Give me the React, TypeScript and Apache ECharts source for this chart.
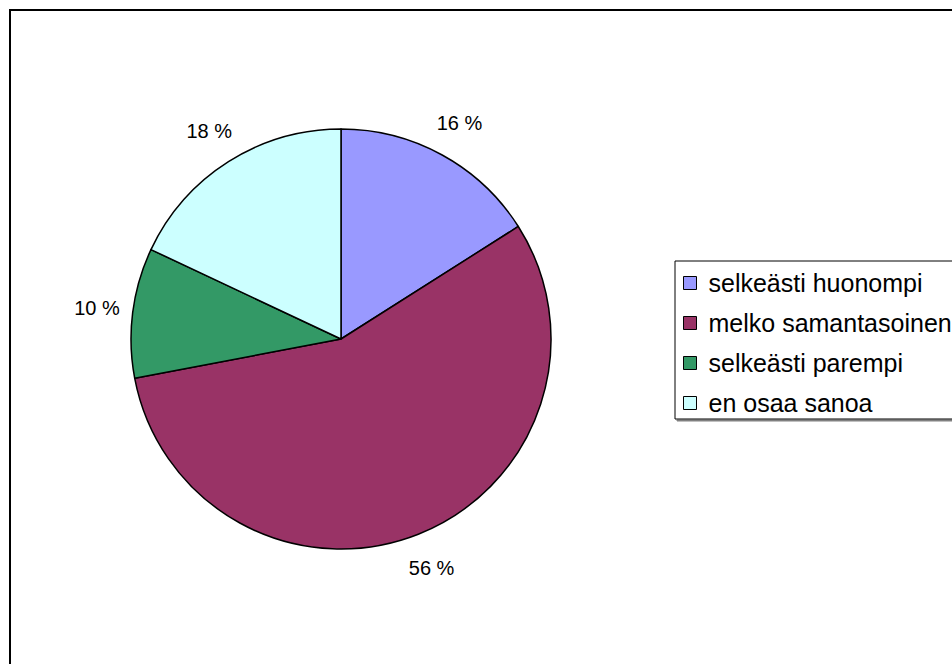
import React, { useEffect, useRef } from "react";
import * as echarts from "echarts";

const categories = ["selkeästi huonompi", "melko samantasoinen", "selkeästi parempi", "en osaa sanoa"];
const values = [16, 56, 10, 18];
const colors = ["#9999FF", "#993366", "#339966", "#CCFFFF"];

const FONT = "'Liberation Sans', Arial, Helvetica, sans-serif";

export default function App() {
  const ref = useRef<HTMLDivElement>(null);
  useEffect(() => {
    if (!ref.current) return;
    const chart = echarts.init(ref.current, null, { renderer: "svg" });
    const data = categories.map((name, i) => ({
      name,
      value: values[i],
      itemStyle: { color: colors[i] },
    }));
    const labelData = categories.map((name, i) => ({ name, value: values[i] }));
    chart.setOption({
      animation: false,
      backgroundColor: "#ffffff",
      graphic: [
        {
          type: "rect",
          shape: { x: 10, y: 10, width: 1000, height: 700 },
          style: { fill: "none", stroke: "#000", lineWidth: 2 },
          silent: true,
          z: -1,
        },
      ],
      legend: {
        orient: "vertical",
        left: 675,
        top: 261,
        data: categories,
        itemWidth: 13,
        itemHeight: 13,
        itemGap: 12,
        icon: "rect",
        padding: [8, 300, 2, 8],
        borderColor: "#000",
        borderWidth: 1,
        backgroundColor: "#fff",
        shadowColor: "#808080",
        shadowOffsetX: 2,
        shadowOffsetY: 2,
        shadowBlur: 0,
        itemStyle: { borderColor: "#000", borderWidth: 1 },
        textStyle: {
          fontFamily: FONT,
          fontSize: 25,
          lineHeight: 28,
          color: "#000",
          padding: [0, 0, 0, 7],
        },
        selectedMode: false,
      },
      series: [
        {
          type: "pie",
          center: [341, 339],
          radius: [0, 210],
          startAngle: 90,
          clockwise: true,
          data,
          label: { show: false },
          labelLine: { show: false },
          itemStyle: { borderColor: "#000", borderWidth: 1.5 },
          emphasis: { disabled: true },
          silent: true,
        },
        {
          type: "pie",
          center: [341, 339],
          radius: [0, 486],
          startAngle: 90,
          clockwise: true,
          data: labelData,
          itemStyle: { color: "rgba(0,0,0,0)", borderWidth: 0 },
          label: {
            show: true,
            position: "inside",
            formatter: (p: any) => `${p.value} %`,
            color: "#000",
            fontFamily: FONT,
            fontSize: 20,
          },
          labelLine: { show: false },
          emphasis: { disabled: true },
          silent: true,
          z: 3,
        },
      ],
    });
    return () => chart.dispose();
  }, []);
  return (
    <div
      ref={ref}
      style={{ position: "fixed", left: 0, top: 0, width: 952, height: 664, background: "#fff" }}
    />
  );
}
